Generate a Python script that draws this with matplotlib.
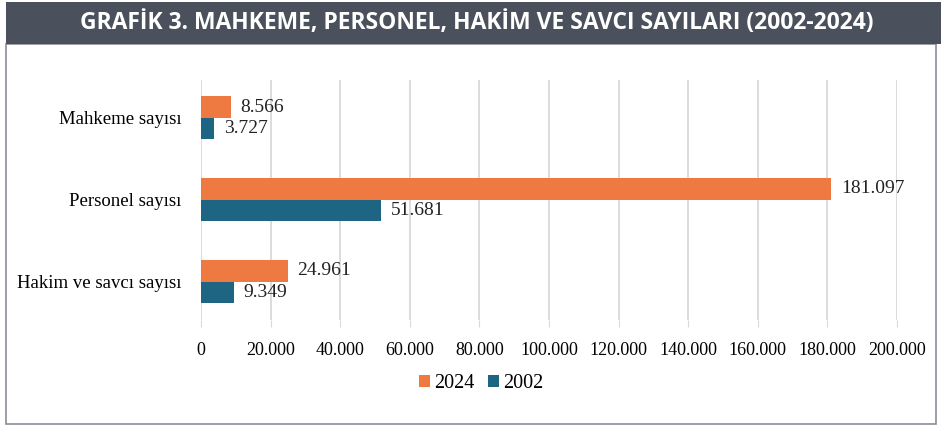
import matplotlib.pyplot as plt
from matplotlib.patches import Rectangle

categories = ['Mahkeme sayısı', 'Personel sayısı', 'Hakim ve savcı sayısı']
vals_2024 = [8566, 181097, 24961]
vals_2002 = [3727, 51681, 9349]
xticks = [0, 20000, 40000, 60000, 80000, 100000, 120000, 140000, 160000, 180000, 200000]

c24 = '#EE7A41'
c02 = '#1E6584'

def fmt(v):
    return f'{v:,}'.replace(',', '.')

fig = plt.figure(figsize=(9.41, 4.26), dpi=100)
W, H = 941, 426

# outer frame and header band
fig.patches.append(Rectangle((6 / W, 2 / H), 930 / W, 380 / H, transform=fig.transFigure,
                             facecolor='white', edgecolor='#8a8f96', linewidth=1.2, zorder=-2))
fig.patches.append(Rectangle((6 / W, (H - 44) / H), (W - 6) / W, 42 / H, transform=fig.transFigure,
                             facecolor='#4B515C', edgecolor='none', zorder=-1))
fig.text(477 / W, (H - 23) / H, 'GRAFİK 3. MAHKEME, PERSONEL, HAKİM VE SAVCI SAYILARI (2002-2024)',
         color='white', fontsize=16.5, fontweight='bold', family='Open Sans',
         fontstretch='condensed', ha='center', va='center')

ax = fig.add_axes([201 / W, (H - 320) / H, 696 / W, 240 / H])
y = range(len(categories))
h = 0.26
ax.barh([i - h / 2 for i in y], vals_2024, height=h, color=c24, label='2024')
ax.barh([i + h / 2 for i in y], vals_2002, height=h, color=c02, label='2002')

for i in y:
    ax.annotate(fmt(vals_2024[i]), (vals_2024[i], i - h / 2), xytext=(7, 0),
                textcoords='offset points', va='center', ha='left',
                fontsize=14, family='Liberation Serif', color='#222222')
    ax.annotate(fmt(vals_2002[i]), (vals_2002[i], i + h / 2), xytext=(7, 0),
                textcoords='offset points', va='center', ha='left',
                fontsize=14, family='Liberation Serif', color='#222222')

ax.set_xlim(0, 200000)
ax.set_ylim(2.47, -0.46)
ax.set_yticks(list(y))
ax.set_yticklabels(categories, family='Liberation Serif', fontsize=13.5)
ax.set_xticks(xticks)
ax.set_xticklabels([fmt(t) for t in xticks], family='Liberation Serif', fontsize=13)
ax.tick_params(axis='y', length=0, pad=14)
ax.tick_params(axis='x', length=5, color='#d9d9d9', pad=11)
ax.grid(axis='x', color='#d9d9d9', linewidth=1.3)
ax.set_axisbelow(True)
for s in ax.spines.values():
    s.set_visible(False)

leg = fig.legend(loc='center', bbox_to_anchor=(481 / W, (H - 384) / H), ncol=2, frameon=False,
                 prop={'family': 'Liberation Serif', 'size': 14.5}, handlelength=0.55,
                 handleheight=0.55, handletextpad=0.2, columnspacing=0.7)

fig.savefig('out.png', dpi=100)
